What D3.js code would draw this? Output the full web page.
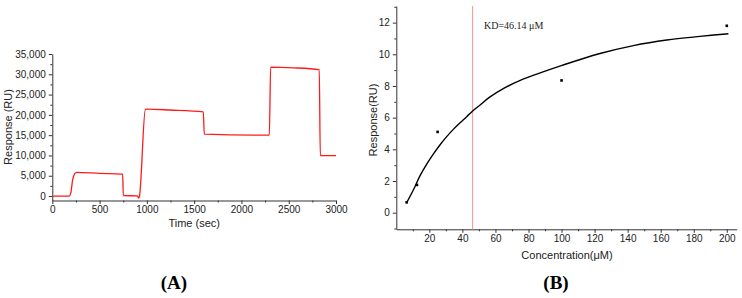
<!DOCTYPE html>
<html>
<head>
<meta charset="utf-8">
<script src="https://cdn.jsdelivr.net/npm/d3@7"></script>
<style>
  body { margin: 0; background: #fff; }
  svg { display: block; }
  .axis text { font-family: "Liberation Sans", Arial, sans-serif; font-size: 10px; fill: #222; }
  .axis path, .axis line { stroke: #333; stroke-width: 1; }
  .title { font-family: "Liberation Sans", Arial, sans-serif; font-size: 11px; fill: #222; }
  .panel { font-family: "Liberation Serif", "Times New Roman", serif; font-size: 19px; font-weight: bold; }
  .kd { font-family: "Liberation Serif", "Times New Roman", serif; font-size: 10px; fill: #222; }
</style>
</head>
<body>
<div id="d3-container"></div>
<script>
// panel A: sensorgram trace
const timeSec = [0, 180, 195, 215, 237, 258, 500, 744, 751, 899, 913, 922, 984, 1000, 1245, 1597, 1607, 2295, 2309, 2549, 2823, 2834, 3000];
const responseRU = [0, 0, 700, 3900, 5500, 5830, 5600, 5400, 100, 50, -500, 0, 21350, 21400, 21200, 20750, 15280, 15000, 31750, 31600, 31150, 9950, 9950];
const timeTicks = [0, 500, 1000, 1500, 2000, 2500, 3000];
const ruTicks = [0, 5000, 10000, 15000, 20000, 25000, 30000, 35000];

// panel B: steady-state binding
const concUM = [6.25, 12.5, 25, 100, 200];
const bindRU = [0.65, 1.75, 5.1, 8.35, 11.8];
const fitConc = [6.3, 10.3, 14.3, 18.4, 22.4, 26.5, 30.5, 34.5, 38.6, 42.6, 46.2, 50.7, 56.3, 65, 75, 85, 100.3, 123.3, 143.5, 163.7, 183.8, 201];
const fitRU = [0.63, 1.43, 2.32, 3.07, 3.7, 4.29, 4.8, 5.26, 5.68, 6.06, 6.42, 6.8, 7.28, 7.85, 8.35, 8.75, 9.3, 10.05, 10.55, 10.9, 11.13, 11.3];
const kdValue = 46.14;
const concTicks = [20, 40, 60, 80, 100, 120, 140, 160, 180, 200];
const bindTicks = [0, 2, 4, 6, 8, 10, 12];

const width = 742, height = 298;

const svg = d3.select("#d3-container")
    .append("svg")
    .attr("width", width)
    .attr("height", height);

/* ---------- panel A ---------- */
const xA = d3.scaleLinear().domain([0, 3000]).range([52.3, 336]);
const yA = d3.scaleLinear().domain([-1100, 35000]).range([200.5, 54]);

// minor ticks
svg.append("g")
    .attr("class", "axis")
    .attr("transform", `translate(0,${yA(-1100)})`)
    .call(d3.axisBottom(xA).tickValues(d3.range(250, 3000, 500)).tickSize(2).tickFormat(""))
    .call(g => g.select(".domain").remove());
svg.append("g")
    .attr("class", "axis")
    .attr("transform", `translate(${xA(0)},0)`)
    .call(d3.axisLeft(yA).tickValues(d3.range(2500, 35000, 5000)).tickSize(2).tickFormat(""))
    .call(g => g.select(".domain").remove());

svg.append("g")
    .attr("class", "axis")
    .attr("transform", `translate(0,${yA(-1100)})`)
    .call(d3.axisBottom(xA).tickValues(timeTicks).tickSize(3.5).tickSizeOuter(0).tickPadding(2).tickFormat(d3.format("d")));
svg.append("g")
    .attr("class", "axis")
    .attr("transform", `translate(${xA(0)},0)`)
    .call(d3.axisLeft(yA).tickValues(ruTicks).tickSize(3.5).tickSizeOuter(0).tickPadding(3).tickFormat(d3.format(",")));

const traceA = d3.line()
    .x((d, i) => xA(timeSec[i]))
    .y(d => yA(d))
    .curve(d3.curveMonotoneX);
svg.append("path")
    .attr("d", traceA(responseRU))
    .attr("fill", "none")
    .attr("stroke", "#ff1a1a")
    .attr("stroke-width", 1.3);

svg.append("text")
    .attr("class", "title")
    .attr("x", (xA(0) + xA(3000)) / 2)
    .attr("y", 227)
    .attr("text-anchor", "middle")
    .text("Time (sec)");
svg.append("text")
    .attr("class", "title")
    .attr("transform", `translate(12,127) rotate(-90)`)
    .attr("text-anchor", "middle")
    .text("Response (RU)");
svg.append("text")
    .attr("class", "panel")
    .attr("x", 174)
    .attr("y", 289)
    .attr("text-anchor", "middle")
    .text("(A)");

/* ---------- panel B ---------- */
const xB = d3.scaleLinear().domain([0, 206]).range([396.3, 736.7]);
const yB = d3.scaleLinear().domain([-1.05, 13.05]).range([229.3, 6]);

svg.append("g")
    .attr("class", "axis")
    .attr("transform", `translate(0,${yB(-1.05)})`)
    .call(d3.axisBottom(xB).tickValues(d3.range(10, 206, 20)).tickSize(2).tickFormat(""))
    .call(g => g.select(".domain").remove());
svg.append("g")
    .attr("class", "axis")
    .attr("transform", `translate(${xB(0)},0)`)
    .call(d3.axisLeft(yB).tickValues(d3.range(-1, 13.5, 2)).tickSize(2).tickFormat(""))
    .call(g => g.select(".domain").remove());

svg.append("g")
    .attr("class", "axis")
    .attr("transform", `translate(0,${yB(-1.05)})`)
    .call(d3.axisBottom(xB).tickValues(concTicks).tickSize(3.5).tickSizeOuter(0).tickPadding(2));
svg.append("g")
    .attr("class", "axis")
    .attr("transform", `translate(${xB(0)},0)`)
    .call(d3.axisLeft(yB).tickValues(bindTicks).tickSize(3.5).tickSizeOuter(0).tickPadding(3));

// KD marker
svg.append("line")
    .attr("x1", xB(kdValue)).attr("x2", xB(kdValue))
    .attr("y1", yB(13.05)).attr("y2", yB(-1.05))
    .attr("stroke", "#f4a0a0")
    .attr("stroke-width", 1.2);
svg.append("text")
    .attr("class", "kd")
    .attr("x", 484)
    .attr("y", 28.5)
    .text(`KD=${kdValue} μM`);

const fitLine = d3.line()
    .x((d, i) => xB(fitConc[i]))
    .y(d => yB(d))
    .curve(d3.curveCatmullRom.alpha(0.5));
svg.append("path")
    .attr("d", fitLine(fitRU))
    .attr("fill", "none")
    .attr("stroke", "#000")
    .attr("stroke-width", 1.4);

svg.selectAll("rect.pt")
    .data(bindRU)
    .join("rect")
    .attr("class", "pt")
    .attr("x", (d, i) => xB(concUM[i]) - 1.3)
    .attr("y", d => yB(d) - 1.3)
    .attr("width", 2.6)
    .attr("height", 2.6)
    .attr("fill", "#000");

svg.append("text")
    .attr("class", "title")
    .attr("x", 567)
    .attr("y", 259)
    .attr("text-anchor", "middle")
    .text("Concentration(μM)");
svg.append("text")
    .attr("class", "title")
    .attr("transform", `translate(377,120) rotate(-90)`)
    .attr("text-anchor", "middle")
    .text("Response(RU)");
svg.append("text")
    .attr("class", "panel")
    .attr("x", 556)
    .attr("y", 289)
    .attr("text-anchor", "middle")
    .text("(B)");
</script>
</body>
</html>
